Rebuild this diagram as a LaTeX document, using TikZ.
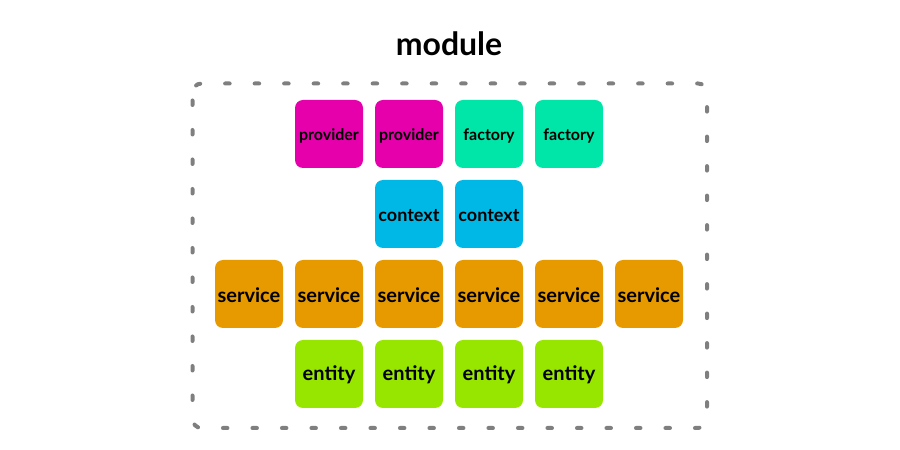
\documentclass[tikz,border=0pt]{standalone}
\usepackage{fontspec}
\setmainfont{Lato}
\definecolor{provcol}{HTML}{E600AC}
\definecolor{factcol}{HTML}{00E6A8}
\definecolor{ctxcol}{HTML}{00B8E6}
\definecolor{servcol}{HTML}{E69A00}
\definecolor{entcol}{HTML}{96E600}
\definecolor{framecol}{HTML}{7F7F7F}
\begin{document}
\begin{tikzpicture}[x=1pt,y=1pt,
        tile/.style={minimum width=68pt,minimum height=68pt,inner sep=0pt,
            rounded corners=8pt,text depth=0pt},
        provtile/.style={tile,fill=provcol,text height=13.6pt,
            font=\bfseries\fontsize{16}{18}\selectfont},
        facttile/.style={tile,fill=factcol,text height=13.6pt,
            font=\bfseries\fontsize{16}{18}\selectfont},
        ctxtile/.style={tile,fill=ctxcol,text height=15.4pt,
            font=\bfseries\fontsize{18}{20}\selectfont},
        servtile/.style={tile,fill=servcol,text height=17.4pt,
            font=\bfseries\fontsize{20}{22}\selectfont},
        enttile/.style={tile,fill=entcol,text height=17.2pt,text depth=4pt,
            font=\bfseries\fontsize{20}{22}\selectfont}]
        \useasboundingbox (0,0) rectangle (900,450);
        %% Title
        \node[font=\bfseries\fontsize{32}{36}\selectfont] (title) at (449,406) {module};
        %% Frame
        \draw[framecol,line width=4pt,line cap=round,dash pattern=on 4.5pt off 25pt,
            dash phase=-8pt,rounded corners=9pt]
            (192.5,366.5) rectangle (707,22);
        %% Providers and factories
        \node[provtile] (prov1) at (329,316) {provider};
        \node[provtile] (prov2) at (409,316) {provider};
        \node[facttile] (fact1) at (489,316) {factory};
        \node[facttile] (fact2) at (569,316) {factory};
        %% Contexts
        \node[ctxtile] (ctx1) at (409,236) {context};
        \node[ctxtile] (ctx2) at (489,236) {context};
        %% Services
        \node[servtile] (serv1) at (249,156) {service};
        \node[servtile] (serv2) at (329,156) {service};
        \node[servtile] (serv3) at (409,156) {service};
        \node[servtile] (serv4) at (489,156) {service};
        \node[servtile] (serv5) at (569,156) {service};
        \node[servtile] (serv6) at (649,156) {service};
        %% Entities
        \node[enttile] (ent1) at (329,76) {entity};
        \node[enttile] (ent2) at (409,76) {entity};
        \node[enttile] (ent3) at (489,76) {entity};
        \node[enttile] (ent4) at (569,76) {entity};
    \end{tikzpicture}
\end{document}
